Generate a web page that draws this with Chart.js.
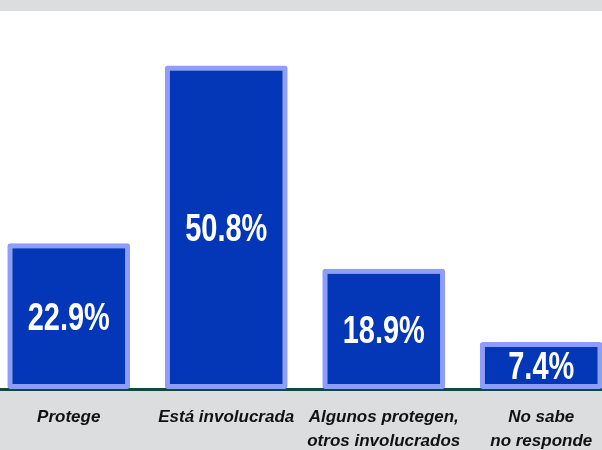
<!DOCTYPE html>
<html>
<head>
<meta charset="utf-8">
<script src="https://cdn.jsdelivr.net/npm/chart.js@4"></script>
<style>
  html, body { margin: 0; padding: 0; }
  body {
    width: 602px; height: 450px; overflow: hidden; position: relative;
    background: linear-gradient(to bottom, #dcdddf 0px, #dcdddf 11px, #ffffff 11px, #ffffff 391px, #dcdddf 391px, #dcdddf 450px);
  }
  #wrap { position: absolute; left: -10px; top: 0; width: 630px; height: 450px; }
</style>
</head>
<body>
<div id="wrap"><canvas id="chart"></canvas></div>
<script>
const categories = [
  ['Protege'],
  ['Está involucrada'],
  ['Algunos protegen,', 'otros involucrados'],
  ['No sabe', 'no responde']
];
const values = [22.9, 50.8, 18.9, 7.4];
const yMax = 60;

// white percentage labels inside each bar
const valueLabels = {
  id: 'valueLabels',
  afterDatasetsDraw(chart) {
    const ctx = chart.ctx;
    const meta = chart.getDatasetMeta(0);
    ctx.save();
    ctx.fillStyle = '#ffffff';
    ctx.textAlign = 'center';
    ctx.textBaseline = 'middle';
    ctx.font = 'bold 29px "Liberation Sans", Arial, sans-serif';
    meta.data.forEach((bar, i) => {
      const cy = (bar.y + bar.base) / 2 + 3;
      ctx.save();
      ctx.translate(bar.x, cy);
      ctx.scale(1, 1.35);
      ctx.fillText(values[i].toFixed(1) + '%', 0, 0);
      ctx.restore();
    });
    ctx.restore();
  }
};

new Chart(document.getElementById('chart'), {
  type: 'bar',
  data: {
    labels: categories,
    datasets: [{
      data: values,
      backgroundColor: '#0436b8',
      borderColor: '#8e9cfa',
      borderWidth: 5,
      borderSkipped: false,
      borderRadius: 3,
      categoryPercentage: 1,
      barPercentage: 0.78
    }]
  },
  options: {
    responsive: true,
    maintainAspectRatio: false,
    devicePixelRatio: 1,
    animation: false,
    layout: { padding: { top: 7, left: 0, right: 0, bottom: 0 } },
    plugins: {
      legend: { display: false },
      tooltip: { enabled: false }
    },
    scales: {
      x: {
        z: 1,
        grid: { display: false },
        border: { display: true, color: '#0e4a3f', width: 3 },
        ticks: {
          color: '#111111',
          padding: 8,
          maxRotation: 0,
          autoSkip: false,
          font: { family: '"Liberation Sans", Arial, sans-serif', size: 17, weight: 'bold', style: 'italic', lineHeight: 1.41 }
        },
        afterFit(scale) { scale.height = 61; }
      },
      y: {
        display: false,
        min: 0,
        max: yMax
      }
    }
  },
  plugins: [valueLabels]
});
</script>
</body>
</html>
